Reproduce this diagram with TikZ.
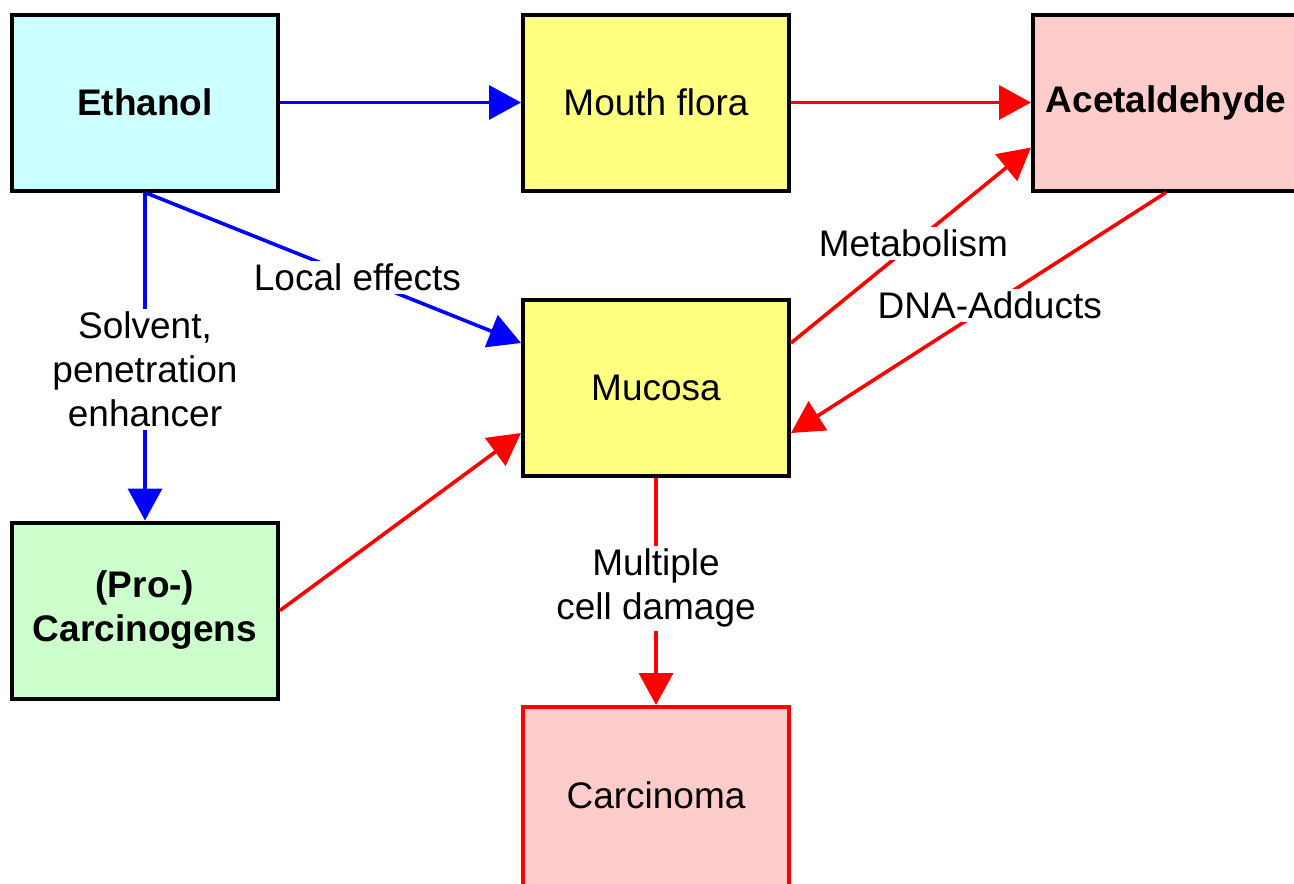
\documentclass[tikz,border=0pt]{standalone}
\usepackage{fontspec}
\setmainfont{Liberation Sans}
\usetikzlibrary{arrows.meta,calc}
\definecolor{cyanbox}{HTML}{CCFFFF}
\definecolor{yellowbox}{HTML}{FFFF80}
\definecolor{pinkbox}{HTML}{FFCCCC}
\definecolor{greenbox}{HTML}{CCFFCC}
\begin{document}
\begin{tikzpicture}[x=1pt,y=-1pt,
  box/.style={draw=black,line width=4pt,minimum width=266pt,minimum height=176pt,inner sep=0pt,align=center,font=\fontsize{37}{44}\selectfont},
  boldbox/.style={box,font=\fontsize{37}{44}\selectfont\bfseries},
  boldtext/.style={inner sep=0pt,font=\fontsize{37}{44}\selectfont\bfseries},
  plaintext/.style={inner sep=0pt,font=\fontsize{37}{44}\selectfont},
  lbl/.style={fill=white,align=center,inner sep=3pt,font=\fontsize{37}{44}\selectfont},
  bluearrow/.style={draw=blue,line width=3.6pt,-{Triangle[length=32pt,width=34pt]}},
  redarrow/.style={draw=red,line width=3.6pt,-{Triangle[length=32pt,width=34pt]}}]
\useasboundingbox (0,0) rectangle (1294,884);
\clip (0,0) rectangle (1294,884);

\node[boldbox,fill=cyanbox] (eth) at (145,102.5) {Ethanol};
\node[box,fill=yellowbox] (flora) at (656,102.5) {Mouth flora};
\node[box,fill=pinkbox,minimum width=316pt] (acet) at (1191,102.5) {};
\node[boldtext] (acettext) at (1166,102.5) {Acetaldehyde};
\node[box,fill=yellowbox] (muc) at (656,388) {Mucosa};
\node[boldbox,fill=greenbox] (pro) at (145,610.5) {(Pro-)\\Carcinogens};
\node[box,draw=red,fill=pinkbox,minimum height=196pt] (carc) at (656,805) {};
\node[plaintext] (carctext) at (656,795) {Carcinoma};

\coordinate (mucR1) at ($(muc.north east)!0.25!(muc.south east)$);
\coordinate (mucR2) at ($(muc.north east)!0.75!(muc.south east)$);
\coordinate (mucL1) at ($(muc.north west)!0.25!(muc.south west)$);
\coordinate (mucL2) at ($(muc.north west)!0.75!(muc.south west)$);
\coordinate (acetL2) at ($(acet.north west)!0.75!(acet.south west)$);
\coordinate (acetS) at ($(acet.south)+(-25,0)$);

\draw[bluearrow] (eth.east) -- (flora.west);
\draw[redarrow] (flora.east) -- (acet.west);
\draw[bluearrow] (eth.south) -- (mucL1) node[lbl,pos=0.565] (le) {Local effects};
\draw[bluearrow] (eth.south) -- (pro.north) node[lbl,pos=0.54] (sol) {Solvent,\\penetration\\enhancer};
\draw[redarrow] (pro.east) -- (mucL2);
\draw[redarrow] (mucR1) -- (acetL2) node[lbl,pos=0.51] (met) {Metabolism};
\draw[redarrow] (acetS) -- (mucR2) node[lbl,pos=0.47] (dna) {DNA-Adducts};
\draw[redarrow] (muc.south) -- (carc.north) node[lbl,pos=0.486] (mcd) {Multiple\\cell damage};
\end{tikzpicture}
\end{document}
